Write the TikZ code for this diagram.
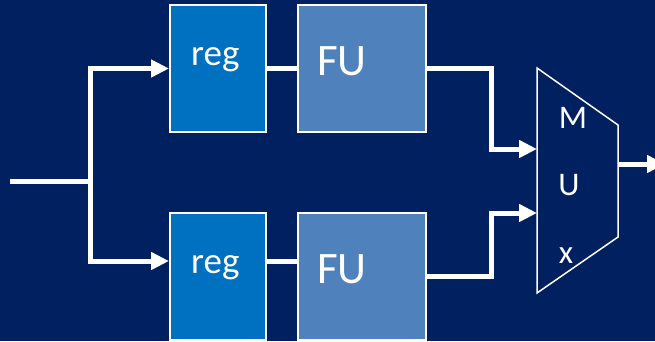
\documentclass[tikz,border=0pt]{standalone}
\usepackage{fontspec}
\setmainfont{Carlito}
\usetikzlibrary{arrows.meta}
\definecolor{bgnavy}{HTML}{002060}
\definecolor{regblue}{HTML}{0070C0}
\definecolor{fublue}{HTML}{4F81BD}
\begin{document}
\begin{tikzpicture}[x=1pt,y=-1pt,
  regbox/.style={draw=white,line width=2pt,fill=regblue,minimum width=96pt,minimum height=127pt,inner sep=0pt},
  fubox/.style={draw=white,line width=2pt,fill=fublue,minimum width=128pt,minimum height=127pt,inner sep=0pt},
  wire/.style={draw=white,line width=5pt},
  arr/.style={wire,-{Triangle[length=18pt,width=17pt]}},
  lbl/.style={text=white,inner sep=0pt,anchor=base west}]
\useasboundingbox (0,0) rectangle (655,341);
\fill[bgnavy] (0,0) rectangle (655,341);
% boxes
\node[regbox] (reg1) at (218,68.5) {};
\node[fubox]  (fu1)  at (362,68.5) {};
\node[regbox] (reg2) at (218,276.5) {};
\node[fubox]  (fu2)  at (362,276.5) {};
\node[lbl,font=\fontsize{37}{40}\selectfont] (reg1t) at (191,65) {reg};
\node[lbl,font=\fontsize{45}{48}\selectfont] (fu1t) at (317,75) {FU};
\node[lbl,font=\fontsize{37}{40}\selectfont] (reg2t) at (191,273) {reg};
\node[lbl,font=\fontsize{45}{48}\selectfont] (fu2t) at (317,283) {FU};
% mux
\draw[white,line width=1.5pt] (537,68) -- (618,125) -- (618,237) -- (537,293) -- cycle;
\node[text=white,inner sep=0pt,font=\fontsize{33}{36}\selectfont] (mM) at (573,118) {M};
\node[text=white,inner sep=0pt,font=\fontsize{33}{36}\selectfont] (mU) at (569,185) {U};
\node[text=white,inner sep=0pt,anchor=base,font=\fontsize{33}{36}\selectfont] (mx) at (566,263) {x};
\coordinate (in) at (10,181);
\coordinate (split) at (90,181);
\coordinate (m1) at (537,149);
\coordinate (m2) at (537,213);
\coordinate (mo) at (618,164);
\coordinate (out) at (665,164);
% wires
\draw[wire] (in) -- (split);
\draw[arr] (split) |- (reg1.west);
\draw[arr] (split) |- ([yshift=15.5pt]reg2.west);
\draw[wire] (reg1.east) -- (fu1.west);
\draw[wire] ([yshift=15.5pt]reg2.east) -- ([yshift=15.5pt]fu2.west);
\draw[arr] (fu1.east) -- ++(64,0) |- (m1);
\draw[arr] (fu2.east) -- ++(64,0) |- (m2);
\draw[arr] (mo) -- (out);
\end{tikzpicture}
\end{document}
